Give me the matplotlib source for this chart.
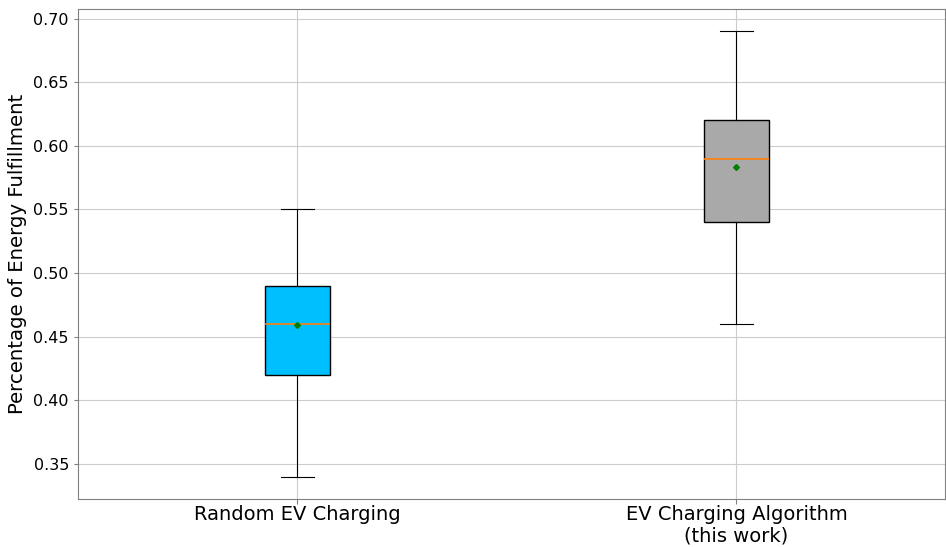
import matplotlib
matplotlib.use('Agg')
import matplotlib.pyplot as plt

# summary statistics of energy fulfillment for each charging strategy
labels = ['Random EV Charging', 'EV Charging Algorithm\n(this work)']
whisker_low = [0.34, 0.46]
q1 = [0.42, 0.54]
medians = [0.46, 0.59]
q3 = [0.49, 0.62]
whisker_high = [0.55, 0.69]
means = [0.4595, 0.5833]
box_colors = ['#00BFFF', '#A9A9A9']


def main():
    stats = []
    for i in range(len(labels)):
        stats.append({'label': labels[i], 'whislo': whisker_low[i], 'q1': q1[i],
                      'med': medians[i], 'q3': q3[i], 'whishi': whisker_high[i],
                      'mean': means[i], 'fliers': []})

    fig = plt.figure(figsize=(9.46, 5.47), dpi=100)
    ax = fig.add_axes([78 / 946, 48 / 547, 867 / 946, 490 / 547])

    bp = ax.bxp(stats, patch_artist=True, showmeans=True,
                boxprops=dict(edgecolor='black', linewidth=1.0),
                whiskerprops=dict(color='black', linewidth=0.8),
                capprops=dict(color='black', linewidth=0.8),
                medianprops=dict(color='#ff7f0e', linewidth=1.2),
                meanprops=dict(marker='D', markersize=3, markerfacecolor='green',
                               markeredgecolor='green'))
    for patch, c in zip(bp['boxes'], box_colors):
        patch.set_facecolor(c)

    ax.set_xlim(0.5, 2.475)
    ax.grid(True, color='#cccccc', linewidth=0.8)
    ax.set_axisbelow(True)
    for s in ax.spines.values():
        s.set_color('#808080')
    ax.tick_params(colors='#808080', labelcolor='black')
    ax.tick_params(axis='y', labelsize=11.5, length=3)
    ax.tick_params(axis='x', labelsize=14, pad=1)
    for t in ax.get_xticklabels():
        t.set_linespacing(1.15)
    ax.set_ylabel('Percentage of Energy Fulfillment', fontsize=14.2, labelpad=5)
    ax.yaxis.set_major_formatter(matplotlib.ticker.FormatStrFormatter('%.2f'))

    fig.savefig('out.png', dpi=100)


if __name__ == "__main__":
    main()
